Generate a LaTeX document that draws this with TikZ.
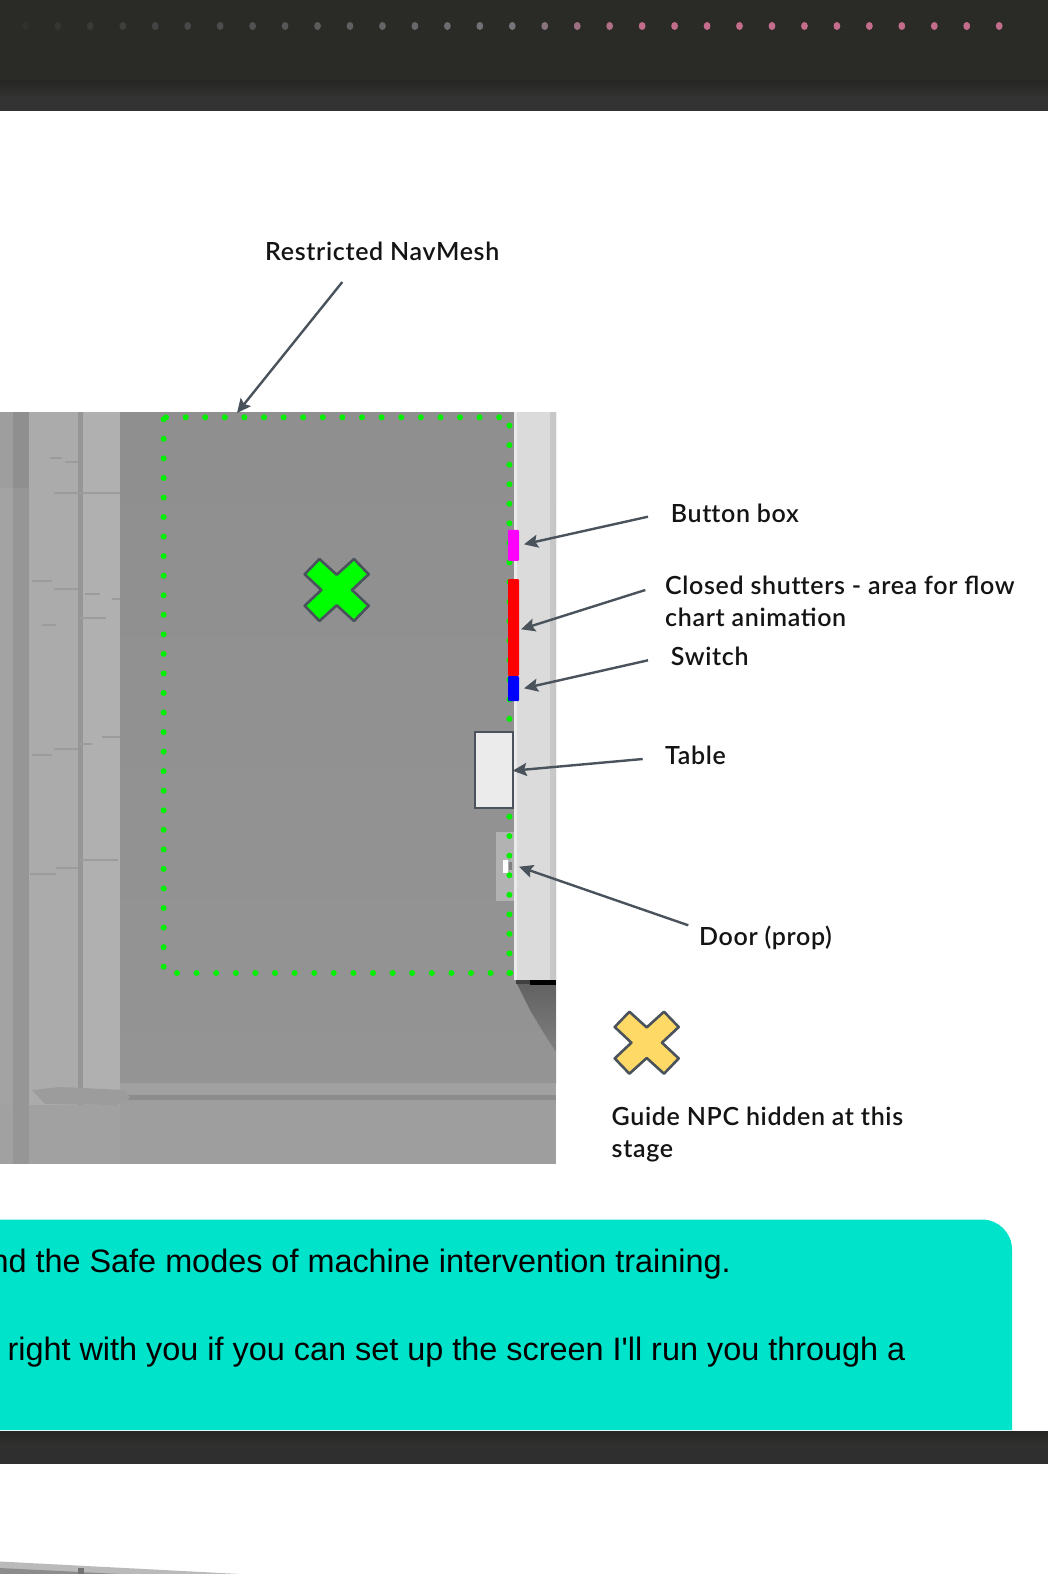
\documentclass[tikz,border=0pt]{standalone}
\usepackage{fontspec}
\usetikzlibrary{arrows.meta}
\setmainfont{Liberation Sans}
\newfontfamily\bodyfont{Liberation Sans}
\newfontfamily\lblfont[LetterSpace=2.6]{Lato Semibold}
\definecolor{bandtop}{HTML}{2A2B27}
\definecolor{bandlow}{HTML}{333333}
\definecolor{bandedge}{HTML}{262624}
\definecolor{slate}{HTML}{4A535C}
\definecolor{teal}{HTML}{00E3CB}
\definecolor{navgreen}{HTML}{00F000}
\definecolor{yellowx}{HTML}{FFD966}
\definecolor{xgreen}{HTML}{00FF00}
\definecolor{dotpink}{HTML}{C46C8C}
\definecolor{dotgrey}{HTML}{75767A}
\definecolor{dotdark}{HTML}{30312D}
\definecolor{purepink}{HTML}{FF00FF}
\tikzset{
  lbl/.style={anchor=base west,inner sep=0pt,font=\lblfont\fontsize{25}{32}\selectfont,text=black!92},
  body/.style={anchor=base east,inner sep=0pt,font=\bodyfont\fontsize{32.4}{36}\selectfont,text=black},
  callout/.style={draw=slate,line width=2.4pt,-{Stealth[length=14pt,width=13pt,inset=2.5pt]}},
  navdot/.style={fill=navgreen,draw=none},
  xmark/.style={draw=slate,line width=2.6pt,line join=round},
}
\newcommand{\xshape}[3]{\path[xmark,fill=#3] (#1,#2) +(0,-15.3) -- +(17.3,-31) -- +(32,-15.7) -- +(15.3,0) -- +(32,15.7) -- +(17.3,31) -- +(0,15.3) -- +(-17.3,31) -- +(-32,15.7) -- +(-15.3,0) -- +(-32,-15.7) -- +(-17.3,-31) -- cycle;}
\begin{document}
\begin{tikzpicture}[x=1pt,y=-1pt]
\useasboundingbox (0,0) rectangle (1048,1574);
\clip (0,0) rectangle (1048,1574);
\fill[white] (0,0) rectangle (1048,1574);
% top band
\fill[bandtop] (0,0) rectangle (1048,80);
\shade[top color=bandedge,bottom color=bandlow] (0,80) rectangle (1048,98);
\fill[bandlow] (0,98) rectangle (1048,111);
% dots of the top band
\foreach \i in {0,...,30}{
  \pgfmathsetmacro{\px}{25.4+32.46*\i}
  \ifnum\i<16
    \pgfmathsetmacro{\mx}{100*\i/15}
    \colorlet{cdot}{dotgrey!\mx!dotdark}
  \else
    \pgfmathsetmacro{\mx}{min(100,100*(\i-15)/4)}
    \colorlet{cdot}{dotpink!\mx!dotgrey}
  \fi
  \fill[cdot] (\px,26) ellipse (3.4 and 4);
}
% grey plan image
\shade[top color=black!44,bottom color=black!42] (120,412) rectangle (556,1083);
\fill[black!33] (0,412) rectangle (120,1164);
\fill[black!36] (0,412) rectangle (13,1164);
\fill[black!41] (13,412) rectangle (29,1105);
\fill[black!33] (29,412) rectangle (78,1164);
\fill[black!41] (78,412) rectangle (83,1164);
\fill[black!31] (83,412) rectangle (120,1164);
\fill[black!38] (0,412) rectangle (29,488);
\fill[black!44] (13,412) rectangle (29,488);
\fill[black!38] (120,1083) rectangle (556,1164);
\fill[black!37] (29,1105) rectangle (120,1164);
\fill[black!41] (13,1105) rectangle (29,1164);
\fill[black!37] (0,1105) rectangle (13,1164);
\fill[black!37] (120,1083) rectangle (556,1095);
\fill[black!45] (120,1095) rectangle (556,1100);
\fill[black!39] (32,1090) -- (60,1087) -- (125,1090) -- (130,1098) -- (118,1105) -- (45,1104) -- cycle;
% small marks on the left strip
\foreach \ax/\ay/\bx in {32/581/52,54/589/78,85/594/100,42/625/56,80/618/106,112/599/120,54/749/78,32/755/52,80/744/92,102/737/120,54/493/120,50/458/62,65/462/78,30/874/56,56/868/78,80/860/118}{
  \draw[black!39,line width=1.2pt] (\ax,\ay) -- (\bx,\ay);
}
% door patch and wall
\fill[black!30] (496,832) rectangle (514,901);
\fill[white] (502.5,860) rectangle (508,873);
\fill[black!50] (509,862) rectangle (512,870);
\fill[black!14] (514,412) rectangle (556,980);
\fill[black!22] (550,412) rectangle (556,980);
\fill[black!8] (514,412) rectangle (517,980);
\shade[top color=black!62,bottom color=black!50] (516,982) -- (556,982) -- (556,1052) -- (545,1035) -- (530,1010) -- cycle;
\fill[black!75] (516,980) rectangle (556,984);
\fill[black] (530,980) rectangle (556,985);
% navmesh dots
\foreach \i in {0,...,17}{\fill[navdot] (166+19.6*\i,417.3) circle (3);}
\foreach \i in {0,...,28}{\fill[navdot] (163.6,419.3+19.55*\i) circle (3);}
\foreach \i in {0,...,28}{\fill[navdot] (509.4,973-19.55*\i) circle (3);}
\foreach \i in {0,...,17}{\fill[navdot] (177+19.6*\i,973) circle (3);}
% wall elements
\node[draw=none,fill=purepink,rounded corners=1pt,minimum width=11pt,minimum height=31pt,inner sep=0pt] (buttonbox) at (513.5,545.3) {};
\node[draw=none,fill=red,rounded corners=1pt,minimum width=11pt,minimum height=97pt,inner sep=0pt] (shutters) at (513.5,627.5) {};
\node[draw=none,fill=blue,rounded corners=1pt,minimum width=11pt,minimum height=25pt,inner sep=0pt] (switch) at (513.5,688.5) {};
\node[draw=slate,line width=2pt,fill=black!8,minimum width=38pt,minimum height=76pt,inner sep=0pt] (tablebox) at (493.5,770.3) {};
% crosses
\xshape{336.7}{590}{xgreen}
\xshape{646.7}{1042.7}{yellowx}
% labels
\node[lbl] (lrest) at (265,260.7) {Restricted NavMesh};
\node[lbl] (lbutton) at (670.7,522) {But\kern0pt ton box};
\node[lbl] (lclosed) at (665,594) {Closed shut\kern0pt ters - area for flow};
\node[lbl] (lchart) at (665,626) {chart animation};
\node[lbl] (lswitch) at (670.7,665) {Switch};
\node[lbl] (ltable) at (665,764) {Table};
\node[lbl] (ldoor) at (699,945) {Door (prop)};
\node[lbl] (lguide) at (611.5,1125) {Guide NPC hidden at this};
\node[lbl] (lstage) at (611.5,1157) {stage};
% arrows
\coordinate (a1s) at (342.3,282); \coordinate (a1e) at (237,413);
\coordinate (a2s) at (648,516.7); \coordinate (a2e) at (524,544.3);
\coordinate (a3s) at (645.3,590); \coordinate (a3e) at (521,629.3);
\coordinate (a4s) at (648,660.3); \coordinate (a4e) at (524,688.3);
\coordinate (a5s) at (642.7,759); \coordinate (a5e) at (512.7,770.7);
\coordinate (a6s) at (688.3,925.3); \coordinate (a6e) at (519,866.7);
\draw[callout] (a1s) -- (a1e);
\draw[callout] (a2s) -- (a2e);
\draw[callout] (a3s) -- (a3e);
\draw[callout] (a4s) -- (a4e);
\draw[callout] (a5s) -- (a5e);
\draw[callout] (a6s) -- (a6e);
% teal panel
\fill[teal] (-5,1219.5) -- (982,1219.5) arc[start angle=-90,end angle=0,radius=30] -- (1012,1430) -- (-5,1430) -- cycle;
\node[body] (line1) at (731,1272.7) {nd the Safe modes of machine intervention training.};
\node[body] (line2) at (905.5,1360) {right with you if you can set up the screen I'll run you through a};
% lower band
\shade[top color=bandedge,bottom color=bandlow] (0,1431) rectangle (1048,1448);
\fill[bandlow!92!black] (0,1448) rectangle (1048,1464);
% sliver of next image
\fill[black!27] (0,1561.5) -- (240,1574) -- (0,1574) -- cycle;
\fill[black!45] (0,1568) -- (120,1574) -- (0,1574) -- cycle;
\fill[black!55] (78,1568) rectangle (84,1574);
\end{tikzpicture}
\end{document}
